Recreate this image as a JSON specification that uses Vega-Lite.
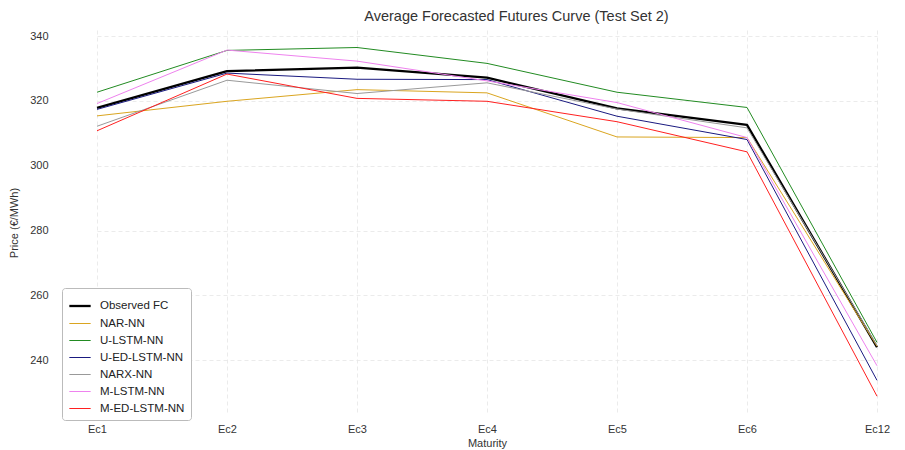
{
  "$schema": "https://vega.github.io/schema/vega-lite/v6.json",
  "width": 847,
  "height": 385,
  "autosize": {"type": "none"},
  "padding": {"left": 58, "top": 30, "right": 0, "bottom": 35},
  "background": "white",
  "config": {
    "font": "Liberation Sans",
    "view": {"stroke": null},
    "axis": {
      "domain": false,
      "ticks": false,
      "labelColor": "#333333",
      "labelFontSize": 11,
      "titleColor": "#333333",
      "titleFontSize": 11,
      "titleFontWeight": "normal",
      "grid": true,
      "gridColor": "#e6e6e6",
      "gridDash": [4, 3],
      "gridWidth": 0.8
    }
  },
  "title": {
    "text": "Average Forecasted Futures Curve (Test Set 2)",
    "fontSize": 14.5,
    "fontWeight": "normal",
    "color": "#333333",
    "offset": 6,
    "anchor": "middle",
    "dx": 35
  },
  "data": {
    "values": [
      {"m": "Ec1", "s": "Observed FC", "v": 317.9},
      {"m": "Ec2", "s": "Observed FC", "v": 329.2},
      {"m": "Ec3", "s": "Observed FC", "v": 330.3},
      {"m": "Ec4", "s": "Observed FC", "v": 327.2},
      {"m": "Ec5", "s": "Observed FC", "v": 317.7},
      {"m": "Ec6", "s": "Observed FC", "v": 312.6},
      {"m": "Ec12", "s": "Observed FC", "v": 244.0},
      {"m": "Ec1", "s": "NAR-NN", "v": 315.4},
      {"m": "Ec2", "s": "NAR-NN", "v": 319.9},
      {"m": "Ec3", "s": "NAR-NN", "v": 323.5},
      {"m": "Ec4", "s": "NAR-NN", "v": 322.5},
      {"m": "Ec5", "s": "NAR-NN", "v": 308.9},
      {"m": "Ec6", "s": "NAR-NN", "v": 308.7},
      {"m": "Ec12", "s": "NAR-NN", "v": 244.3},
      {"m": "Ec1", "s": "U-LSTM-NN", "v": 322.7},
      {"m": "Ec2", "s": "U-LSTM-NN", "v": 335.6},
      {"m": "Ec3", "s": "U-LSTM-NN", "v": 336.5},
      {"m": "Ec4", "s": "U-LSTM-NN", "v": 331.6},
      {"m": "Ec5", "s": "U-LSTM-NN", "v": 322.7},
      {"m": "Ec6", "s": "U-LSTM-NN", "v": 318.0},
      {"m": "Ec12", "s": "U-LSTM-NN", "v": 245.5},
      {"m": "Ec1", "s": "U-ED-LSTM-NN", "v": 317.4},
      {"m": "Ec2", "s": "U-ED-LSTM-NN", "v": 328.6},
      {"m": "Ec3", "s": "U-ED-LSTM-NN", "v": 326.7},
      {"m": "Ec4", "s": "U-ED-LSTM-NN", "v": 326.6},
      {"m": "Ec5", "s": "U-ED-LSTM-NN", "v": 315.3},
      {"m": "Ec6", "s": "U-ED-LSTM-NN", "v": 308.1},
      {"m": "Ec12", "s": "U-ED-LSTM-NN", "v": 233.8},
      {"m": "Ec1", "s": "NARX-NN", "v": 312.2},
      {"m": "Ec2", "s": "NARX-NN", "v": 326.4},
      {"m": "Ec3", "s": "NARX-NN", "v": 322.3},
      {"m": "Ec4", "s": "NARX-NN", "v": 325.6},
      {"m": "Ec5", "s": "NARX-NN", "v": 317.5},
      {"m": "Ec6", "s": "NARX-NN", "v": 311.7},
      {"m": "Ec12", "s": "NARX-NN", "v": 244.6},
      {"m": "Ec1", "s": "M-LSTM-NN", "v": 319.2},
      {"m": "Ec2", "s": "M-LSTM-NN", "v": 335.7},
      {"m": "Ec3", "s": "M-LSTM-NN", "v": 332.3},
      {"m": "Ec4", "s": "M-LSTM-NN", "v": 326.2},
      {"m": "Ec5", "s": "M-LSTM-NN", "v": 319.5},
      {"m": "Ec6", "s": "M-LSTM-NN", "v": 308.7},
      {"m": "Ec12", "s": "M-LSTM-NN", "v": 238.3},
      {"m": "Ec1", "s": "M-ED-LSTM-NN", "v": 310.8},
      {"m": "Ec2", "s": "M-ED-LSTM-NN", "v": 328.3},
      {"m": "Ec3", "s": "M-ED-LSTM-NN", "v": 320.8},
      {"m": "Ec4", "s": "M-ED-LSTM-NN", "v": 319.9},
      {"m": "Ec5", "s": "M-ED-LSTM-NN", "v": 313.6},
      {"m": "Ec6", "s": "M-ED-LSTM-NN", "v": 304.3},
      {"m": "Ec12", "s": "M-ED-LSTM-NN", "v": 228.9}
    ]
  },
  "mark": {"type": "line", "strokeJoin": "round"},
  "encoding": {
    "x": {
      "field": "m",
      "type": "ordinal",
      "sort": ["Ec1", "Ec2", "Ec3", "Ec4", "Ec5", "Ec6", "Ec12"],
      "scale": {"type": "point", "range": [39, 819], "padding": 0},
      "axis": {"labelAngle": 0, "title": "Maturity", "labelPadding": 8, "titlePadding": 3}
    },
    "y": {
      "field": "v",
      "type": "quantitative",
      "scale": {"domain": [223.1, 341.9], "nice": false, "zero": false},
      "axis": {"values": [240, 260, 280, 300, 320, 340], "title": "Price (€/MWh)", "labelPadding": 10, "titlePadding": 10}
    },
    "color": {
      "field": "s",
      "type": "nominal",
      "scale": {
        "domain": ["Observed FC", "NAR-NN", "U-LSTM-NN", "U-ED-LSTM-NN", "NARX-NN", "M-LSTM-NN", "M-ED-LSTM-NN"],
        "range": ["#000000", "#DAA520", "#228B22", "#1a1a80", "#999999", "#EE82EE", "#FF2020"]
      },
      "legend": {
        "title": null,
        "orient": "none",
        "legendX": 4,
        "legendY": 258,
        "padding": 6,
        "strokeColor": "#bbbbbb",
        "fillColor": "white",
        "cornerRadius": 3,
        "labelFontSize": 11.5,
        "labelColor": "#222222",
        "symbolType": "stroke",
        "symbolSize": 455,
        "rowPadding": 0,
        "labelOffset": 8
      }
    },
    "strokeWidth": {
      "field": "s",
      "type": "nominal",
      "scale": {
        "type": "ordinal",
        "domain": ["Observed FC", "NAR-NN", "U-LSTM-NN", "U-ED-LSTM-NN", "NARX-NN", "M-LSTM-NN", "M-ED-LSTM-NN"],
        "range": [2.3, 1, 1, 1, 1, 1, 1]
      },
      "legend": null
    }
  }
}
